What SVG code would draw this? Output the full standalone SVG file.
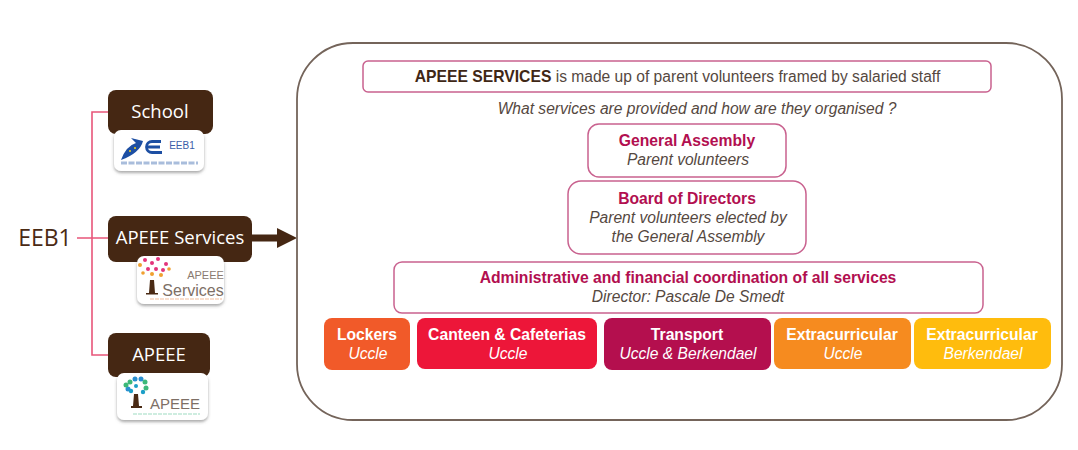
<svg xmlns="http://www.w3.org/2000/svg" width="1078" height="450" viewBox="0 0 1078 450">
<defs>
<style>
text{font-family:"Liberation Sans",Arial,sans-serif;text-anchor:middle}
.brown{fill:#452713}
.label{font-family:"Open Sans","Noto Sans",sans-serif;font-size:18.500px;fill:#fff}
.pk{fill:#fff;stroke:#c9628f;stroke-width:1.5}
.h{font-size:15.700px;font-weight:bold;fill:#b20f50}
.i{font-size:15.600px;font-style:italic;fill:#55483f}
.w{font-size:15.700px;font-weight:bold;fill:#fff}
.wi{font-size:15.600px;font-style:italic;fill:#fff}
.logo{fill:#fff;filter:url(#sh)}
.conn{fill:none;stroke:#e8557a;stroke-width:1.6}
</style>
<filter id="sh" x="-15%" y="-15%" width="130%" height="140%"><feDropShadow dx="0" dy="2" stdDeviation="1.6" flood-color="#555" flood-opacity=".5"/></filter>
</defs>
<rect width="1078" height="450" fill="#fff"/>
<g id="connectors">
<path class="conn" d="M108 112H92V355H108M77 238H108"/>
<path d="M252 234.500H277V228L297 238L277 248V241.500H252Z" fill="#452713"/>
</g>
<g id="eeb1"><text x="45" y="246" font-size="23" fill="#4a2a14" style="font-family:'Open Sans','Noto Sans',sans-serif">EEB1</text></g>
<g id="school">
<rect class="brown" x="108" y="90" width="105" height="44" rx="8"/>
<text class="label" x="160" y="118">School</text>
<rect class="logo" x="114" y="130" width="90" height="41" rx="7"/>
<path d="M121 160Q126 146 136 143L131 138L143 141Q140 153 121 160Z" fill="#1d4fa3"/>
<circle cx="130" cy="151" r="1" fill="#f3d21a"/><circle cx="135" cy="148" r="1" fill="#f3d21a"/>
<path d="M161 141.500H152A5.500 5.500 0 0 0 152 152.500H162M146 147H160" fill="none" stroke="#1d4fa3" stroke-width="2.800"/>
<text x="182" y="149" font-size="10" fill="#3a5da8">EEB1</text>
<path d="M121 163H198" stroke="#a9bddc" stroke-width="3" stroke-dasharray="6 1.500"/>
</g>
<g id="apeee-services">
<rect class="brown" x="108" y="216" width="144" height="46" rx="8"/>
<text class="label" x="180" y="244">APEEE Services</text>
<rect class="logo" x="137" y="256" width="87" height="48" rx="7"/>
<g fill="#e3347a"><circle cx="145" cy="260" r="2"/><circle cx="152" cy="263" r="2"/><circle cx="158" cy="259" r="2"/><circle cx="166" cy="264" r="2"/><circle cx="148" cy="269" r="2"/><circle cx="156" cy="269" r="2"/><circle cx="163" cy="270" r="2"/></g>
<g fill="#f0a030"><circle cx="140" cy="265" r="2"/><circle cx="161" cy="275" r="2"/><circle cx="152" cy="274" r="2"/><circle cx="143" cy="273" r="1.800"/><circle cx="169" cy="269" r="1.800"/></g>
<path d="M150 280H154L155 293H158V294.500H146V293H149Z" fill="#4a2a14"/>
<text x="205.500" y="279" font-size="11" fill="#8a7a70">APEEE</text>
<text x="193" y="296" font-size="16" fill="#7d6f66">Services</text>
<path d="M150 299H222" stroke="#f8d3bd" stroke-width="1.500" stroke-dasharray="4 1"/>
</g>
<g id="apeee">
<rect class="brown" x="108" y="333" width="102" height="44" rx="8"/>
<text class="label" x="159" y="361">APEEE</text>
<rect class="logo" x="117" y="373" width="91" height="47" rx="7"/>
<g fill="#2b8fd0"><circle cx="135" cy="379" r="2.500"/><circle cx="141" cy="379" r="2.500"/><circle cx="128" cy="389" r="2.500"/></g>
<g fill="#3cb878"><circle cx="130" cy="382" r="2.500"/><circle cx="145" cy="382" r="2.500"/><circle cx="126" cy="385" r="2.500"/><circle cx="146" cy="388" r="2.500"/></g>
<g fill="#1c9ec7"><circle cx="131" cy="391" r="2.200"/><circle cx="143" cy="392" r="2.200"/><circle cx="136" cy="386" r="2"/></g>
<path d="M134 394H138L139 406H142V408H131V406H133Z" fill="#4a2a14"/>
<text x="175" y="409" font-size="15" fill="#7d6f66">APEEE</text>
<path d="M133 414H200" stroke="#bfe8d6" stroke-width="1.500" stroke-dasharray="4 1"/>
</g>
<g id="frame"><rect x="297" y="43" width="765" height="377" rx="56" fill="#fff" stroke="#74645a" stroke-width="1.800"/></g>
<g id="intro">
<rect class="pk" x="363" y="61" width="628" height="31" rx="5"/>
<text x="677.500" y="82" font-size="15.600" fill="#55483f"><tspan font-weight="bold" font-size="15.700" fill="#3f2716">APEEE SERVICES</tspan> is made up of parent volunteers framed by salaried staff</text>
</g>
<g id="question"><text class="i" x="697" y="114">What services are provided and how are they organised ?</text></g>
<g id="assembly">
<rect class="pk" x="588" y="124" width="198" height="53" rx="11"/>
<text class="h" x="687" y="146">General Assembly</text>
<text class="i" x="688" y="165">Parent volunteers</text>
</g>
<g id="board">
<rect class="pk" x="568" y="181" width="238" height="73" rx="13"/>
<text class="h" x="687" y="204">Board of Directors</text>
<text class="i" x="688" y="223">Parent volunteers elected by</text>
<text class="i" x="688" y="242">the General Assembly</text>
</g>
<g id="admin">
<rect class="pk" x="394" y="262" width="589" height="51" rx="8"/>
<text class="h" x="688" y="283">Administrative and financial coordination of all services</text>
<text class="i" x="688" y="302">Director: Pascale De Smedt</text>
</g>
<g id="lockers">
<rect x="324" y="318" width="86" height="52" rx="8" fill="#f15a29"/>
<text class="w" x="367" y="340">Lockers</text><text class="wi" x="368" y="359">Uccle</text>
</g>
<g id="canteen">
<rect x="417" y="318" width="180" height="51" rx="8" fill="#ed1639"/>
<text class="w" x="507" y="340">Canteen &amp; Cafeterias</text><text class="wi" x="508" y="359">Uccle</text>
</g>
<g id="transport">
<rect x="604" y="318" width="167" height="52" rx="8" fill="#b40f4e"/>
<text class="w" x="687" y="340">Transport</text><text class="wi" x="688" y="359">Uccle &amp; Berkendael</text>
</g>
<g id="extra-uccle">
<rect x="774" y="318" width="137" height="51" rx="8" fill="#f68b1f"/>
<text class="w" x="842" y="340">Extracurricular</text><text class="wi" x="843" y="359">Uccle</text>
</g>
<g id="extra-berkendael">
<rect x="914" y="318" width="137" height="51" rx="8" fill="#ffbc0d"/>
<text class="w" x="982" y="340">Extracurricular</text><text class="wi" x="983" y="359">Berkendael</text>
</g>
</svg>
